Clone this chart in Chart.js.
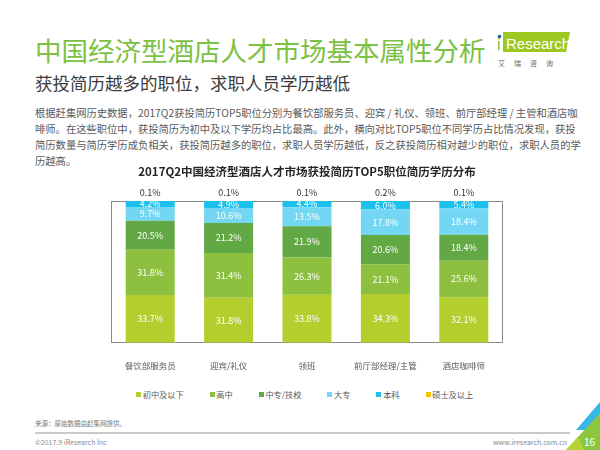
<!DOCTYPE html>
<html><head><meta charset="utf-8">
<script src="https://cdn.jsdelivr.net/npm/chart.js@4.4.0/dist/chart.umd.min.js"></script>
<style>
html,body{margin:0;padding:0;background:#fff;}
body{width:600px;height:450px;position:relative;overflow:hidden;font-family:"Noto Sans CJK SC","Noto Sans",sans-serif;}
.abs{position:absolute;white-space:nowrap;}
#h1{left:35px;top:35px;font-size:26.5px;line-height:30px;color:#7cc142;}
#h2{left:35px;top:73px;font-size:17.5px;line-height:20px;color:#3c3c3c;}
#para{left:35px;top:105px;font-size:10.3px;line-height:16.1px;color:#595959;}
#src{left:35px;top:418px;font-size:6.5px;line-height:10px;color:#777;}
#rule{left:35px;top:432px;width:535px;height:2px;background:#c9c9c9;}
#copy{left:35px;top:437px;font-size:7px;line-height:10px;color:#888;}
#url{right:33px;top:437px;font-size:7px;line-height:10px;color:#888;}
#legend{left:136px;top:389px;display:flex;align-items:center;font-size:8.2px;line-height:10px;color:#595959;}
#legend .it{display:flex;align-items:center;margin-right:26px;}
#legend .mk{width:5px;height:5px;margin-right:1.7px;}
</style></head><body>
<div id="h1" class="abs">中国经济型酒店人才市场基本属性分析</div>
<div id="h2" class="abs">获投简历越多的职位，求职人员学历越低</div>
<div id="para" class="abs">根据赶集网历史数据，2017Q2获投简历TOP5职位分别为餐饮部服务员、迎宾 / 礼仪、领班、前厅部经理 / 主管和酒店咖<br>啡师。在这些职位中，获投简历为初中及以下学历均占比最高。此外，横向对比TOP5职位不同学历占比情况发现，获投<br>简历数量与简历学历成负相关，获投简历越多的职位，求职人员学历越低，反之获投简历相对越少的职位，求职人员的学<br>历越高。</div>

<svg class="abs" style="left:0;top:0" width="600" height="450">
  <polygon points="503,32 570,32 566,52 503,52" fill="#9dc81f"/>
  <text x="497" y="50" font-size="16" fill="#7cc142" font-family="Liberation Sans, Arial">i</text>
  <circle cx="499.5" cy="36.5" r="1.8" fill="#1d5fae"/>
  <text x="506" y="49" font-size="15" fill="#ffffff" font-family="Liberation Sans, Arial">Research</text>
  <text x="498" y="66" font-size="7" fill="#666" font-family="Noto Sans CJK SC" letter-spacing="9">艾瑞咨询</text>
  <polygon points="576,430 600,402 600,430" fill="#35b6e8"/>
  <polygon points="566,450 600,413 600,450" fill="#8cc63e"/>
  <polygon points="566,450 578,437 584,450" fill="#b9d334"/>
  <text x="584" y="446" font-size="10" fill="#ffffff" font-family="Liberation Sans, Arial">16</text>
</svg>

<div id="wrap" class="abs" style="left:0;top:160px;width:600px;height:225px;"><canvas id="c"></canvas></div>
<div id="legend" class="abs"></div>

<div id="src" class="abs">来源：原始数据由赶集网提供。</div>
<div id="rule" class="abs"></div>
<div id="copy" class="abs">©2017.9 iResearch Inc</div>
<div id="url" class="abs">www.iresearch.com.cn</div>

<script>
const categories = ['餐饮部服务员', '迎宾/礼仪', '领班', '前厅部经理/主管', '酒店咖啡师'];
const seriesNames = ['初中及以下', '高中', '中专/技校', '大专', '本科', '硕士及以上'];
const juniorHigh = [33.7, 31.8, 33.8, 34.3, 32.1];
const seniorHigh = [31.8, 31.4, 26.3, 21.1, 25.6];
const vocational = [20.5, 21.2, 21.9, 20.6, 18.4];
const college = [9.7, 10.6, 13.5, 17.8, 18.4];
const bachelor = [4.2, 4.9, 4.4, 6.0, 5.4];
const master = [0.1, 0.1, 0.1, 0.2, 0.1];
const seriesColors = ['#b3cf2d', '#8cc03e', '#62a844', '#73d7f3', '#1cc0ec', '#f5c200'];
const chartTitle = '2017Q2中国经济型酒店人才市场获投简历TOP5职位简历学历分布';

const seriesValues = [juniorHigh, seniorHigh, vocational, college, bachelor, master];
const FONT = '"Noto Sans CJK SC", "Noto Sans", sans-serif';

const framePlugin = {
  id: 'frame',
  beforeDatasetsDraw(chart) {
    const a = chart.chartArea, ctx = chart.ctx;
    ctx.save();
    ctx.strokeStyle = '#8a8a8a';
    ctx.lineWidth = 1;
    ctx.strokeRect(Math.round(a.left) + 0.5, Math.round(a.top) + 0.5, Math.round(a.right - a.left) - 1, Math.round(a.bottom - a.top) - 1);
    ctx.restore();
  }
};

const labelPlugin = {
  id: 'segLabels',
  afterDatasetsDraw(chart) {
    const ctx = chart.ctx, a = chart.chartArea;
    ctx.save();
    ctx.textAlign = 'center';
    ctx.textBaseline = 'middle';
    ctx.font = '9px ' + FONT;
    chart.data.datasets.forEach((ds, di) => {
      const meta = chart.getDatasetMeta(di);
      meta.data.forEach((bar, i) => {
        const txt = ds.data[i].toFixed(1) + '%';
        if (di === seriesValues.length - 1) {
          ctx.fillStyle = '#333333';
          ctx.fillText(txt, bar.x, a.top - 8);
        } else {
          ctx.fillStyle = '#ffffff';
          ctx.fillText(txt, bar.x, (bar.y + bar.base) / 2);
        }
      });
    });
    ctx.restore();
  }
};

const datasets = seriesNames.map((name, k) => ({
  label: name,
  data: seriesValues[k],
  backgroundColor: seriesColors[k],
  borderWidth: 0,
  categoryPercentage: 1.0,
  barPercentage: 0.625
}));

new Chart(document.getElementById('c'), {
  type: 'bar',
  data: { labels: categories, datasets },
  options: {
    responsive: true,
    maintainAspectRatio: false,
    animation: false,
    layout: { padding: { left: 111, right: 97, top: 0, bottom: 4 } },
    scales: {
      x: {
        stacked: true,
        grid: { display: false },
        border: { display: false },
        ticks: { font: { size: 8.5, family: FONT }, color: '#595959', padding: 10 }
      },
      y: { stacked: true, min: 0, max: 100, display: false }
    },
    plugins: {
      legend: { display: false },
      tooltip: { enabled: false },
      title: {
        display: true,
        text: chartTitle,
        color: '#262626',
        font: { size: 11.5, weight: 'bold', family: FONT },
        padding: { top: 5, bottom: 22 }
      }
    }
  },
  plugins: [framePlugin, labelPlugin]
});

const lg = document.getElementById('legend');
seriesNames.forEach((name, k) => {
  const it = document.createElement('div');
  it.className = 'it';
  const mk = document.createElement('div');
  mk.className = 'mk';
  mk.style.background = seriesColors[k];
  const tx = document.createElement('span');
  tx.textContent = name;
  it.appendChild(mk); it.appendChild(tx);
  lg.appendChild(it);
});
</script>
</body></html>
